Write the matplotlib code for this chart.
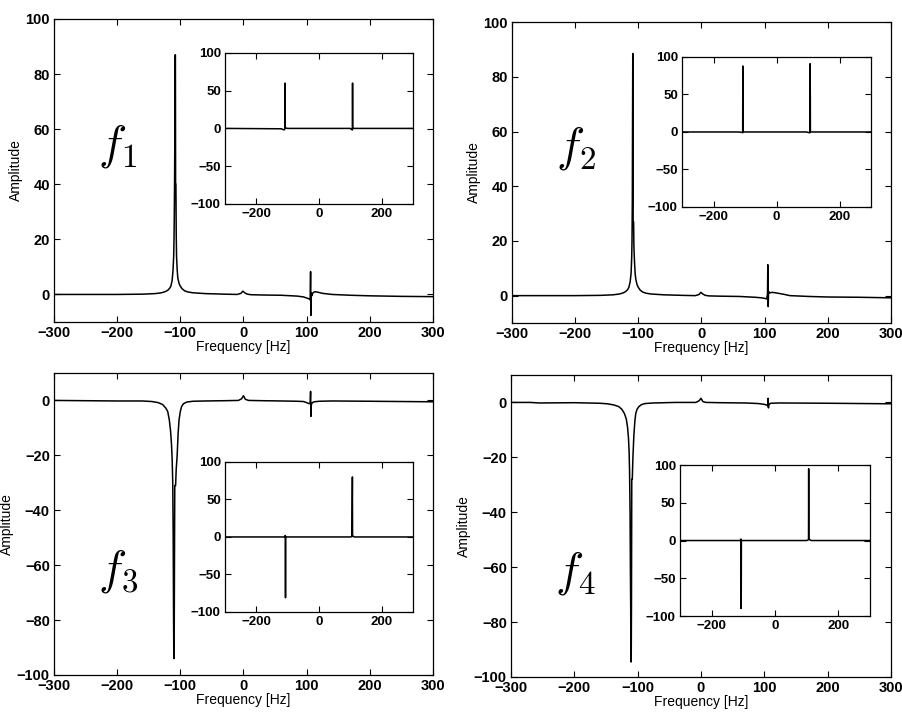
import matplotlib
matplotlib.use("Agg")
import matplotlib.pyplot as plt

plt.rcParams["font.family"] = ["Liberation Sans", "DejaVu Sans"]
plt.rcParams["mathtext.fontset"] = "cm"

# main spectra: (frequency, amplitude) points
freq_f1 = [-300, -250, -200, -160, -140, -130, -124, -120, -117, -115, -113, -111.5,
           -110.5, -110, -109.5, -109, -108.5, -108.2, -107.8, -107.5, -107, -106.5,
           -106, -105, -104, -102, -100, -97, -93, -88, -80, -60, -30, -10, -4, -1,
           2, 6, 12, 30, 60, 85, 95, 100, 104, 105.5, 106.2, 106.8, 107.4, 108, 110,
           113, 118, 125, 140, 170, 200, 250, 300]
amp_f1 = [0, 0, 0, 0.1, 0.3, 0.6, 1.0, 1.5, 2.2, 3, 5, 9,
          14, 20, 30, 45, 65, 87, 87, 40, 40, 22,
          14, 9, 6, 4, 3, 2, 1.3, 0.9, 0.6, 0.3, 0.1, 0, 0.4, 1.2,
          0.6, 0.1, -0.1, -0.2, -0.3, -0.6, -0.9, -1.3, -1.6, -2, 8.3, -7.6, 0.5, -0.5, 0.6,
          1.0, 0.8, 0.4, 0, -0.3, -0.5, -0.7, -0.8]

freq_f2 = [-300, -200, -160, -140, -130, -124, -120, -117, -115, -113, -111.5, -110.5,
           -110, -109.5, -109.2, -108.8, -108.5, -108.2, -107.5, -107, -106, -105, -104,
           -102, -100, -97, -93, -88, -80, -60, -30, -10, -4, -1, 2, 6, 12, 30, 60, 85,
           95, 100, 103, 104.5, 105, 105.6, 106.2, 108, 112, 118, 130, 140, 170, 200,
           250, 300]
amp_f2 = [0, 0, 0.1, 0.3, 0.6, 1.0, 1.5, 2.2, 3, 5, 8, 14,
          20, 35, 60, 88.5, 88.5, 27, 27, 18, 12, 8, 6,
          4, 3, 2, 1.3, 0.9, 0.6, 0.3, 0.1, 0, 0.4, 1.2, 0.6, 0.1, -0.1, -0.2, -0.3, -0.6,
          -0.8, -1, -1.2, 0.5, 11.3, -4, 1.5, 1, 1.2, 1, 0.5, 0, -0.3, -0.5,
          -0.6, -0.8]

freq_f3 = [-300, -250, -200, -160, -145, -135, -128, -123, -120, -117.5, -115.5, -114,
           -113, -112, -111.3, -110.8, -110.3, -109.8, -109.3, -108.8, -107.5, -106.5,
           -105, -103.5, -102, -100, -98, -95, -90, -80, -60, -30, -8, -3, 0, 3, 8, 30,
           60, 85, 95, 100, 104, 105.5, 106.2, 106.8, 107.4, 109, 112, 120, 140, 200,
           250, 300]
amp_f3 = [0, -0.1, -0.2, -0.2, -0.4, -0.8, -1.5, -2.8, -4, -7, -11, -16,
          -21, -30, -50, -75, -94, -94, -60, -31, -31, -25,
          -20, -12, -7, -4, -2.2, -1.2, -0.6, -0.3, -0.2, -0.1, 0, 0.6, 1.7, 0.4, 0, -0.1,
          -0.2, -0.3, -0.4, -0.8, -1.2, -1, 3.3, -5.8, -1.5, -0.8, -0.5, -0.3, -0.2, -0.3,
          -0.4, -0.5]

freq_f4 = [-300, -270, -255, -200, -160, -148, -138, -130, -125, -121, -118, -116,
           -114.5, -113.5, -112.8, -112, -111.5, -111, -110.6, -110.2, -109.8, -109.3,
           -108.5, -107.5, -106, -104.5, -103, -101, -98, -94, -88, -75, -40, -8, -3, 0,
           3, 8, 30, 70, 90, 100, 104, 105.5, 106, 106.5, 107, 110, 125, 200, 250, 300]
amp_f4 = [0, 0, -0.2, -0.1, -0.3, -0.5, -0.9, -1.5, -2.5, -4, -6, -9,
          -13, -18, -25, -40, -60, -75, -94.5, -94.5, -74, -28,
          -28, -20, -12, -7, -4, -2.5, -1.5, -0.8, -0.4, -0.2, 0, 0, 0.6, 1.5,
          0.3, 0, -0.1, -0.2, -0.4, -0.7, -1, -1.2, 1.5, -2, -0.8, -0.3, -0.2, -0.3, -0.4, -0.5]

# inset spectra
ifreq_1 = [-300, -120, -112, -109, -108.5, -108, -106, -100, 100, 104, 106.5, 107, 107.5, 110, 300]
iamp_1 = [0, -0.5, -2, -1, 60, 2, 0.5, 0, 0, -1.5, -2, 60, 1, 0, 0]

ifreq_2 = [-300, -120, -110, -107.5, -107, -106.8, -106.5, -106, -100, 95, 102, 106,
           106.5, 106.8, 107.2, 107.5, 300]
iamp_2 = [0, 0, -0.5, -1, 88, 45, 45, 0, 0, 0, -0.8, -1,
          91, 53, 53, 0, 0]

ifreq_3 = [-300, -110, -107.5, -107, -106.5, 100, 105, 106.5, 107, 109, 112, 300]
iamp_3 = [0, 0, 2, -81, 0, 0, 0.5, 80, 2, 1, 0, 0]

ifreq_4 = [-300, -110, -107.5, -107, -106.8, -106.4, -106, 100, 106, 106.5, 107, 110, 115, 300]
iamp_4 = [0, 0, 2, -90, -69, -69, 0, 0, 1, 95, 2, 1, 0, 0]

labels = [r"$f_1$", r"$f_2$", r"$f_3$", r"$f_4$"]
label_y = [54, 54, -62, -62]

main_rects = [
    [0.0598, 0.5484, 0.4197, 0.4250],
    [0.5670, 0.5470, 0.4197, 0.4220],
    [0.0598, 0.0533, 0.4197, 0.4236],
    [0.5659, 0.0505, 0.4208, 0.4236],
]
inset_rects = [
    [0.2492, 0.7140, 0.2082, 0.2118],
    [0.7553, 0.7097, 0.2093, 0.2104],
    [0.2492, 0.1417, 0.2082, 0.2104],
    [0.7530, 0.1360, 0.2104, 0.2118],
]

mains = [(freq_f1, amp_f1), (freq_f2, amp_f2), (freq_f3, amp_f3), (freq_f4, amp_f4)]
insets = [(ifreq_1, iamp_1), (ifreq_2, iamp_2), (ifreq_3, iamp_3), (ifreq_4, iamp_4)]


def matlab_style(ax, size):
    ax.tick_params(direction="in", top=True, right=True, length=4, width=0.8,
                   labelsize=size, pad=3)
    for lab in ax.get_xticklabels() + ax.get_yticklabels():
        lab.set_fontweight("bold")
    for sp in ax.spines.values():
        sp.set_linewidth(0.9)


fig = plt.figure(figsize=(9.03, 7.13), dpi=100)

for i in range(4):
    ax = fig.add_axes(main_rects[i])
    f, a = mains[i]
    ax.plot(f, a, color="black", lw=1.1)
    ax.set_xlim(-300, 300)
    ax.set_xticks([-300, -200, -100, 0, 100, 200, 300])
    if i < 2:
        ax.set_ylim(-10, 100)
        ax.set_yticks([0, 20, 40, 60, 80, 100])
    else:
        ax.set_ylim(-100, 10)
        ax.set_yticks([-100, -80, -60, -40, -20, 0])
    matlab_style(ax, 10.5)
    ax.set_xlabel("Frequency [Hz]", fontsize=10, labelpad=0)
    ax.set_ylabel("Amplitude", fontsize=10, labelpad=2)
    ax.text(-230, label_y[i], labels[i], fontsize=34, ha="left", va="center")

    ins = fig.add_axes(inset_rects[i])
    fi, ai = insets[i]
    ins.plot(fi, ai, color="black", lw=1.1)
    ins.set_xlim(-300, 300)
    ins.set_ylim(-100, 100)
    ins.set_xticks([-200, 0, 200])
    ins.set_yticks([-100, -50, 0, 50, 100])
    matlab_style(ins, 9.5)

fig.savefig("out.png", dpi=100)
